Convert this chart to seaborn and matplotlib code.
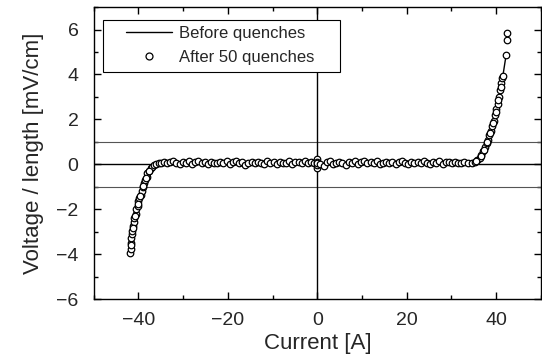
import numpy as np
import pandas as pd
import matplotlib
matplotlib.use("Agg")
import matplotlib.pyplot as plt
from matplotlib.ticker import MultipleLocator
from matplotlib.lines import Line2D
from matplotlib.patches import Rectangle
import seaborn as sns

# "Before quenches" curve
before_x = [-41.7, -41.3, -40.8, -40.2, -39.6, -39.0, -38.4, -37.8, -37.0, -36.0,
            -34.0, -30.0, -20.0, -10.0, 0.0, 10.0, 20.0, 30.0, 34.0, 36.0,
            37.0, 38.0, 39.0, 40.0, 41.0, 42.2]
before_y = [-3.9, -3.0, -2.4, -1.85, -1.35, -0.95, -0.6, -0.35, -0.15, -0.05,
            0.0, 0.02, 0.03, 0.03, 0.03, 0.04, 0.05, 0.06, 0.1, 0.25,
            0.45, 0.85, 1.5, 2.35, 3.3, 4.85]

# "After 50 quenches" points
left_x = [-41.8, -41.7, -41.6, -41.7, -41.5, -41.4, -41.2, -41.0, -40.9, -40.6,
          -40.5, -40.2, -40.0, -39.8, -39.5, -39.3, -39.0, -38.8, -38.5, -38.2,
          -38.0, -37.6, -37.3, -36.9, -36.5, -36.0, -35.5,
          -41.6, -41.3, -40.7, -40.1, -39.6, -38.9, -38.3, -37.7]
left_y = [-3.95, -3.75, -3.5, -3.3, -3.1, -2.95, -2.75, -2.55, -2.4, -2.2,
          -2.0, -1.85, -1.65, -1.5, -1.35, -1.2, -1.0, -0.85, -0.7, -0.55,
          -0.4, -0.3, -0.18, -0.1, -0.05, 0.0, 0.05,
          -3.6, -2.85, -2.3, -1.75, -1.4, -0.95, -0.6, -0.3]
flat_x = [-35.0, -34.3, -33.6, -32.9, -32.2, -31.5, -30.8, -30.1, -29.4, -28.7,
          -28.0, -27.3, -26.6, -25.9, -25.2, -24.5, -23.8, -23.1, -22.4, -21.7,
          -21.0, -20.3, -19.6, -18.9, -18.2, -17.5, -16.8, -16.1, -15.4, -14.7,
          -14.0, -13.3, -12.6, -11.9, -11.2, -10.5, -9.8, -9.1, -8.4, -7.7,
          -7.0, -6.3, -5.6, -4.9, -4.2, -3.5, -2.8, -2.1, -1.4, -0.7,
          0.0, 0.0, 0.0, 0.0, 0.0, 0.7, 1.4, 2.1, 2.8, 3.5,
          4.2, 4.9, 5.6, 6.3, 7.0, 7.7, 8.4, 9.1, 9.8, 10.5,
          11.2, 11.9, 12.6, 13.3, 14.0, 14.7, 15.4, 16.1, 16.8, 17.5,
          18.2, 18.9, 19.6, 20.3, 21.0, 21.7, 22.4, 23.1, 23.8, 24.5,
          25.2, 25.9, 26.6, 27.3, 28.0, 28.7, 29.4, 30.1, 30.8, 31.5,
          32.2, 32.9, 33.6]
flat_y = [0.08, 0.12, 0.04, 0.10, 0.15, 0.06, 0.02, 0.11, 0.07, 0.13,
          0.03, 0.09, 0.14, 0.05, 0.10, 0.01, 0.12, 0.08, 0.04, 0.11,
          0.06, 0.13, 0.02, 0.09, 0.15, 0.05, 0.10, -0.02, 0.08, 0.12,
          0.04, 0.11, 0.07, 0.01, 0.13, 0.06, 0.10, 0.03, 0.12, 0.08,
          0.05, 0.14, 0.02, 0.09, 0.11, 0.04, 0.13, 0.07, 0.10, 0.06,
          0.22, -0.15, 0.12, -0.05, 0.05, 0.03, -0.06, 0.10, 0.14, 0.01,
          0.08, 0.12, 0.05, -0.03, 0.11, 0.07, 0.15, 0.02, 0.09, 0.13,
          0.04, 0.10, 0.06, 0.14, 0.01, 0.08, 0.12, 0.05, 0.11, 0.03,
          0.09, 0.14, 0.06, 0.02, 0.12, 0.07, 0.10, 0.04, 0.13, 0.08,
          0.01, 0.11, 0.06, 0.14, 0.03, 0.09, 0.12, 0.05, 0.10, 0.07,
          0.04, 0.11, 0.06]
right_x = [34.5, 35.2, 35.8, 36.3, 36.7, 37.1, 37.5, 37.9, 38.2, 38.5,
           38.8, 39.1, 39.4, 39.7, 40.0, 40.3, 40.6, 40.9, 41.1, 41.4,
           41.6, 42.2, 42.5, 42.5,
           35.5, 36.5, 37.3, 38.0, 38.7, 39.3, 39.9, 40.5, 41.0]
right_y = [0.08, 0.12, 0.2, 0.3, 0.42, 0.58, 0.75, 0.95, 1.1, 1.3,
           1.5, 1.72, 1.95, 2.2, 2.45, 2.7, 3.0, 3.3, 3.6, 3.85,
           3.95, 4.85, 5.55, 5.85,
           0.15, 0.35, 0.65, 1.0, 1.4, 1.85, 2.35, 2.85, 3.45]

after_x = left_x + flat_x + right_x
after_y = left_y + flat_y + right_y

df_before = pd.DataFrame({"I": before_x, "V": before_y})
df_after = pd.DataFrame({"I": after_x, "V": after_y})

sns.set_style("ticks")
plt.rcParams['font.family'] = ['Liberation Sans', 'DejaVu Sans']

fig = plt.figure(figsize=(5.42, 3.56), dpi=100)
ax = fig.add_axes([0.173, 0.160, 0.825, 0.820])

ax.axhline(1, color="#555555", lw=0.8, zorder=1)
ax.axhline(-1, color="#555555", lw=0.8, zorder=1)
ax.axhline(0, color="black", lw=1.0, zorder=1)
ax.axvline(0, color="black", lw=1.0, zorder=1)

sns.lineplot(data=df_before, x="I", y="V", ax=ax, color="black", lw=1.0,
             sort=False, zorder=3, legend=False)
sns.scatterplot(data=df_after, x="I", y="V", ax=ax, s=22, marker="o",
                facecolor="white", edgecolor="black", linewidth=0.9,
                zorder=4, legend=False)

ax.set_xlim(-50, 50)
ax.set_ylim(-6, 7)
ax.xaxis.set_major_locator(MultipleLocator(20))
ax.xaxis.set_minor_locator(MultipleLocator(10))
ax.yaxis.set_major_locator(MultipleLocator(2))
ax.yaxis.set_minor_locator(MultipleLocator(1))
ax.tick_params(which="both", direction="in", top=True, right=True,
               labelsize=14, width=1.0, color="black")
ax.tick_params(which="major", length=5)
ax.tick_params(which="minor", length=3)
ax.tick_params(axis="x", which="major", pad=9)
ax.tick_params(axis="y", which="major", pad=11)
for sp in ax.spines.values():
    sp.set_color("black")
    sp.set_linewidth(1.0)

ax.set_xlabel("Current [A]", fontsize=16, labelpad=3)
ax.set_ylabel("Voltage / length [mV/cm]", fontsize=16, labelpad=9)

# legend frame
ax.add_patch(Rectangle((0.020, 0.777), 0.530, 0.178, transform=ax.transAxes,
                       facecolor="white", edgecolor="black", lw=0.8, zorder=5))
handles = [Line2D([0], [0], color="black", lw=1.0),
           Line2D([0], [0], marker="o", ls="none", markersize=5,
                  markerfacecolor="white", markeredgecolor="black", mew=0.9)]
leg = ax.legend(handles, ["Before quenches", "After 50 quenches"],
                loc="upper left", bbox_to_anchor=(0.0716, 0.937),
                fontsize=12, frameon=False, borderpad=0, labelspacing=0.55,
                handlelength=2.75, handletextpad=0.45, borderaxespad=0)
leg.set_zorder(6)

fig.savefig("out.png", dpi=100)
